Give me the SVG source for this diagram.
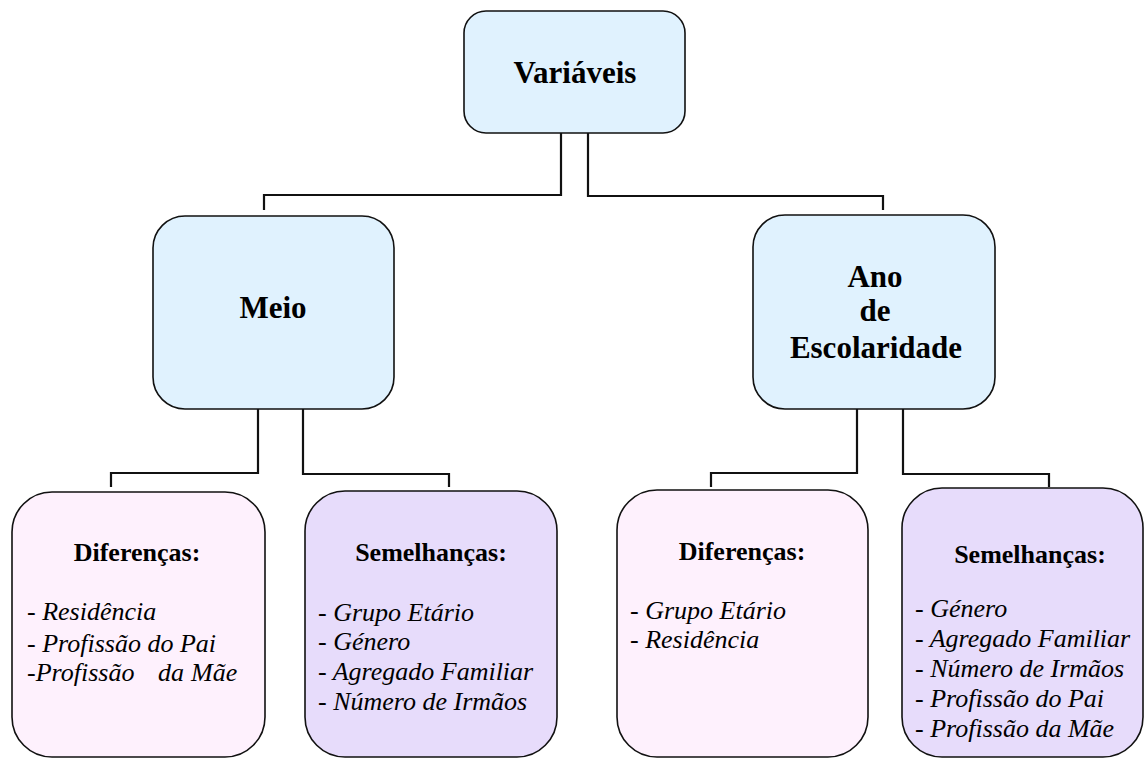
<svg xmlns="http://www.w3.org/2000/svg" width="1147" height="760" viewBox="0 0 1147 760">
  <style>
    .box { stroke: #111; stroke-width: 1.6; }
    .blue { fill: #E0F2FE; }
    .pink { fill: #FEF1FD; }
    .lilac { fill: #E7DCFB; }
    .wire { fill: none; stroke: #111; stroke-width: 2.2; }
  </style>
  <rect width="1147" height="760" fill="#fff"/>

  <!-- connectors -->
  <g id="connectors">
    <polyline class="wire" points="561,133 561,195 264,195 264,210"/>
    <polyline class="wire" points="588,133 588,196 883,196 883,210"/>
    <polyline class="wire" points="258,409 258,473 111,473 111,487"/>
    <polyline class="wire" points="303,409 303,474 449,474 449,487"/>
    <polyline class="wire" points="857,409 857,473 711,473 711,487"/>
    <polyline class="wire" points="903,409 903,474 1049,474 1049,487"/>
  </g>

  <!-- top node -->
  <g id="variaveis">
    <rect class="box blue" x="464" y="11" width="221" height="122" rx="22"/>
    <text font-family="Times New Roman, Tinos, serif" font-weight="bold" font-size="31" text-anchor="middle" x="575" y="83">Variáveis</text>
  </g>

  <!-- second level -->
  <g id="meio">
    <rect class="box blue" x="153" y="216" width="241" height="193" rx="32"/>
    <text font-family="Times New Roman, Tinos, serif" font-weight="bold" font-size="31" text-anchor="middle" x="273" y="318">Meio</text>
  </g>
  <g id="ano-escolaridade" font-family="Times New Roman, Tinos, serif" font-weight="bold" font-size="31" text-anchor="middle">
    <rect class="box blue" x="753" y="215" width="242" height="194" rx="32"/>
    <text x="875" y="287">Ano</text>
    <text x="875" y="321">de</text>
    <text x="876" y="358">Escolaridade</text>
  </g>

  <!-- leaves under Meio -->
  <g id="meio-diferencas" font-family="Times New Roman, Tinos, serif" font-size="26">
    <rect class="box pink" x="12" y="492" width="253" height="265" rx="40"/>
    <text font-weight="bold" text-anchor="middle" x="137" y="561">Diferenças:</text>
    <text font-style="italic" x="27" y="620">- Residência</text>
    <text font-style="italic" x="27" y="652">- Profissão do Pai</text>
    <text font-style="italic" y="681"><tspan x="27">-Profissão</tspan><tspan x="158">da</tspan><tspan x="191">Mãe</tspan></text>
  </g>
  <g id="meio-semelhancas" font-family="Times New Roman, Tinos, serif" font-size="26">
    <rect class="box lilac" x="305" y="491" width="252" height="266" rx="40"/>
    <text font-weight="bold" text-anchor="middle" x="431" y="561">Semelhanças:</text>
    <text font-style="italic" x="318" y="621">- Grupo Etário</text>
    <text font-style="italic" x="318" y="650">- Género</text>
    <text font-style="italic" x="318" y="680">- Agregado Familiar</text>
    <text font-style="italic" x="318" y="710">- Número de Irmãos</text>
  </g>

  <!-- leaves under Ano de Escolaridade -->
  <g id="ano-diferencas" font-family="Times New Roman, Tinos, serif" font-size="26">
    <rect class="box pink" x="617" y="490" width="251" height="267" rx="40"/>
    <text font-weight="bold" text-anchor="middle" x="742" y="560">Diferenças:</text>
    <text font-style="italic" x="630" y="619">- Grupo Etário</text>
    <text font-style="italic" x="630" y="648">- Residência</text>
  </g>
  <g id="ano-semelhancas" font-family="Times New Roman, Tinos, serif" font-size="26">
    <rect class="box lilac" x="902" y="488" width="241" height="269" rx="40"/>
    <text font-weight="bold" text-anchor="middle" x="1030" y="563">Semelhanças:</text>
    <text font-style="italic" x="915" y="617">- Género</text>
    <text font-style="italic" x="915" y="647">- Agregado Familiar</text>
    <text font-style="italic" x="915" y="677">- Número de Irmãos</text>
    <text font-style="italic" x="915" y="707">- Profissão do Pai</text>
    <text font-style="italic" x="915" y="737">- Profissão da Mãe</text>
  </g>
</svg>
